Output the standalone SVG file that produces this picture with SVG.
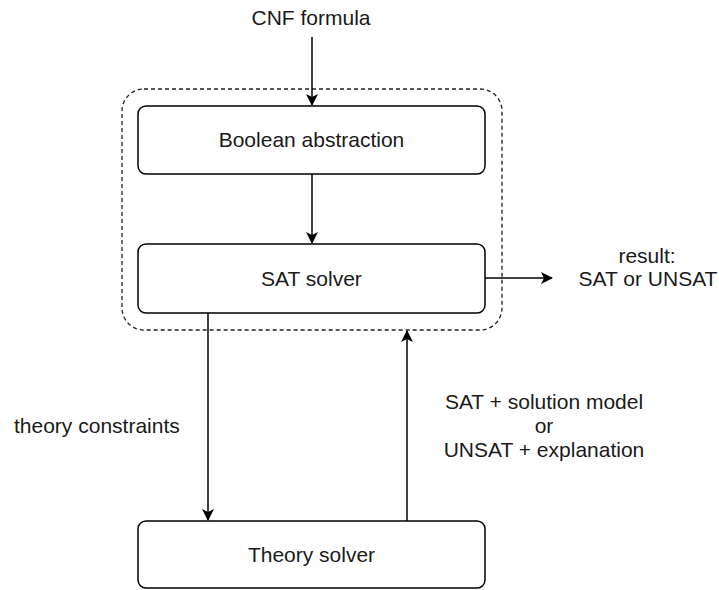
<svg xmlns="http://www.w3.org/2000/svg" width="719" height="590" viewBox="0 0 719 590">
  <style>
    .box { fill: #ffffff; stroke: #000000; stroke-width: 1.5; }
    .group { fill: none; stroke: #222222; stroke-width: 1.3; stroke-dasharray: 4 3; }
    .edge { fill: none; stroke: #000000; stroke-width: 1.5; }
    text { font-family: "Liberation Sans", Arial, sans-serif; font-size: 21px; fill: #1a1a1a; }
    .c { text-anchor: middle; }
  </style>
  <defs>
    <marker id="arrow" viewBox="0 0 12 12" refX="11" refY="6" markerWidth="12" markerHeight="12" markerUnits="userSpaceOnUse" orient="auto">
      <path d="M0,0 L12,6 L0,12 L3,6 Z" fill="#000000"/>
    </marker>
  </defs>

  <rect width="719" height="590" fill="#ffffff"/>

  <!-- dashed boundary around abstraction + SAT solver -->
  <g id="smt-core">
    <rect class="group" x="122" y="89" width="380" height="241" rx="22" ry="22"/>
  </g>

  <g id="boolean-abstraction">
    <rect class="box" x="138" y="106" width="347" height="68" rx="8" ry="8"/>
    <text class="c" x="311.5" y="147">Boolean abstraction</text>
  </g>

  <g id="sat-solver">
    <rect class="box" x="138" y="244" width="347" height="69" rx="8" ry="8"/>
    <text class="c" x="311.5" y="286">SAT solver</text>
  </g>

  <g id="theory-solver">
    <rect class="box" x="138" y="521" width="347" height="67" rx="8" ry="8"/>
    <text class="c" x="311.5" y="562">Theory solver</text>
  </g>

  <g id="labels">
    <text class="c" x="311" y="25">CNF formula</text>
    <text class="c" x="647" y="263">result:</text>
    <text class="c" x="648" y="286">SAT or UNSAT</text>
    <text x="14" y="433">theory constraints</text>
    <text class="c" x="544" y="409">SAT + solution model</text>
    <text class="c" x="544" y="433">or</text>
    <text class="c" x="544" y="457">UNSAT + explanation</text>
  </g>

  <g id="connectors">
    <path class="edge" d="M312,37 L312,105" marker-end="url(#arrow)"/>
    <path class="edge" d="M312,174 L312,243" marker-end="url(#arrow)"/>
    <path class="edge" d="M485,278 L552,278" marker-end="url(#arrow)"/>
    <path class="edge" d="M208,313 L208,520" marker-end="url(#arrow)"/>
    <path class="edge" d="M407,521 L407,331" marker-end="url(#arrow)"/>
  </g>
</svg>
